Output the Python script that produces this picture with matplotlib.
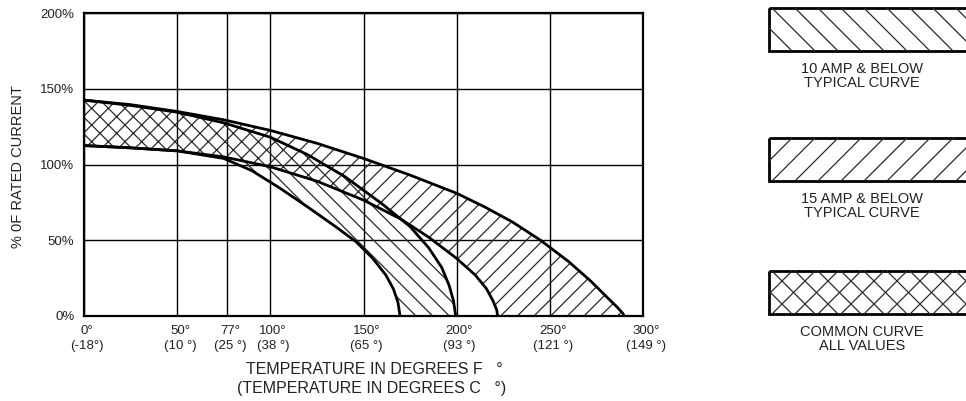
import numpy as np
import matplotlib.pyplot as plt
from matplotlib.patches import Rectangle

plt.rcParams['font.family'] = ['Liberation Sans', 'DejaVu Sans']
plt.rcParams['hatch.linewidth'] = 0.9

# derating curves, % of rated current vs temperature (deg F)
u15_t = [0, 25, 50, 75, 100, 125, 150, 175, 200, 215, 230, 245, 260, 272, 281, 286, 289, 290]
u15_v = [142.5, 139.5, 135, 129.5, 122.5, 114, 104, 93, 81, 72, 62, 50, 36, 23, 12, 6, 2, 0]
l15_t = [0, 25, 50, 75, 100, 125, 150, 170, 185, 200, 210, 216, 219.5, 221.5, 222]
l15_v = [112.5, 111, 109, 105, 98.5, 89, 76.5, 64, 52, 38, 27, 18, 10, 4, 0]
u10_t = [0, 25, 50, 75, 100, 120, 140, 160, 175, 185, 192, 196, 198.3, 199.5]
u10_v = [142.5, 139, 134.5, 127.5, 118, 106.5, 92, 74, 59, 45, 32, 20, 10, 0]
l10_t = [0, 25, 50, 75, 90, 105, 120, 135, 146, 155, 162, 166, 168.5, 169.6]
l10_v = [112.5, 111, 109, 104, 96, 84.5, 72, 59, 49, 38, 27, 18, 9, 0]

x_ticks = [0, 50, 77, 100, 150, 200, 250, 300]
x_labels_f = ['0°', '50°', '77°', '100°', '150°', '200°', '250°', '300°']
x_labels_c = ['(-18°)', '(10 °)', '(25 °)', '(38 °)', '(65 °)', '(93 °)', '(121 °)', '(149 °)']
y_ticks = [0, 50, 100, 150, 200]
y_labels = ['0%', '50%', '100%', '150%', '200%']

legend_kinds = ['back', 'fwd', 'cross']
legend_labels = ['10 AMP & BELOW\nTYPICAL CURVE',
                 '15 AMP & BELOW\nTYPICAL CURVE',
                 'COMMON CURVE\nALL VALUES']

W, H = 966, 401
fig = plt.figure(figsize=(W / 100, H / 100), dpi=100)
ax = fig.add_axes([84 / W, (H - 316) / H, (643 - 84) / W, (316 - 13) / H])

t = np.linspace(0, 300, 1501)
u15 = np.interp(t, u15_t, u15_v, right=0)
l15 = np.interp(t, l15_t, l15_v, right=0)
u10 = np.interp(t, u10_t, u10_v, right=0)
l10 = np.interp(t, l10_t, l10_v, right=0)

hc = '#2a2a2a'
# 15 amp only
lo = np.maximum(u10, l15)
ax.fill_between(t, lo, u15, where=u15 > lo, facecolor='none', edgecolor=hc,
                linewidth=0, hatch='//', interpolate=True)
# common area
ax.fill_between(t, l15, u10, where=u10 > l15, facecolor='none', edgecolor=hc,
                linewidth=0, hatch='xx', interpolate=True)
# 10 amp only
hi = np.minimum(u10, l15)
ax.fill_between(t, l10, hi, where=hi > l10, facecolor='none', edgecolor=hc,
                linewidth=0, hatch='\\\\', interpolate=True)

for ct, cv in [(u15_t, u15_v), (l15_t, l15_v), (u10_t, u10_v), (l10_t, l10_v)]:
    ax.plot(ct, cv, color='black', lw=2.0, solid_capstyle='round',
            solid_joinstyle='round', zorder=3)

ax.set_xlim(0, 300)
ax.set_ylim(0, 200)
ax.set_xticks(x_ticks)
ax.set_xticklabels([])
ax.set_yticks(y_ticks)
ax.set_yticklabels(y_labels, fontsize=9.5, color='#222222')
ax.tick_params(length=0, pad=7)
ax.grid(True, color='black', lw=1.0)
ax.set_axisbelow(True)
for s in ax.spines.values():
    s.set_linewidth(1.6)

trans = ax.get_xaxis_transform()
for xv, lf, lc in zip(x_ticks, x_labels_f, x_labels_c):
    ax.text(xv + 1.5, -0.05, lf, transform=trans, ha='center', va='center',
            fontsize=9.5, color='#222222')
    ax.text(xv + 1.5, -0.10, lc, transform=trans, ha='center', va='center',
            fontsize=9.5, color='#222222')

fig.text(18 / W, 1 - 167 / H, '% 0F RATED CURRENT', rotation=90,
         ha='center', va='center', fontsize=10.5, color='#222222')
fig.text(374 / W, 1 - 370 / H, 'TEMPERATURE IN DEGREES F   °',
         ha='center', va='center', fontsize=11.5, color='#222222')
fig.text(372 / W, 1 - 389 / H, '(TEMPERATURE IN DEGREES C   °)',
         ha='center', va='center', fontsize=11.5, color='#222222')

# legend panel in pixel coordinates (y grows downward)
lg = fig.add_axes([0, 0, 1, 1])
lg.set_xlim(0, W)
lg.set_ylim(H, 0)
lg.axis('off')
box_tops = [8, 138, 271]
bx, bw, bh = 769, 230, 43
step = 23
for kind, label, top in zip(legend_kinds, legend_labels, box_tops):
    clip = Rectangle((bx, top), bw, bh, facecolor='none', edgecolor='none')
    lg.add_patch(clip)
    segs = []
    for x0 in np.arange(bx - bh - step, bx + bw + step, step):
        if kind in ('back', 'cross'):
            segs.append(([x0, x0 + bh], [top, top + bh]))
        if kind in ('fwd', 'cross'):
            segs.append(([x0 + bh, x0], [top, top + bh]))
    for xs, ys in segs:
        ln, = lg.plot(xs, ys, color=hc, lw=0.9)
        ln.set_clip_path(clip)
    lg.add_patch(Rectangle((bx, top), bw, bh, facecolor='none',
                           edgecolor='black', linewidth=2.0))
    lg.text(862, top + 68, label, ha='center', va='center', fontsize=10.5,
            linespacing=1.0, color='#222222')

fig.savefig('out.png', dpi=100)
